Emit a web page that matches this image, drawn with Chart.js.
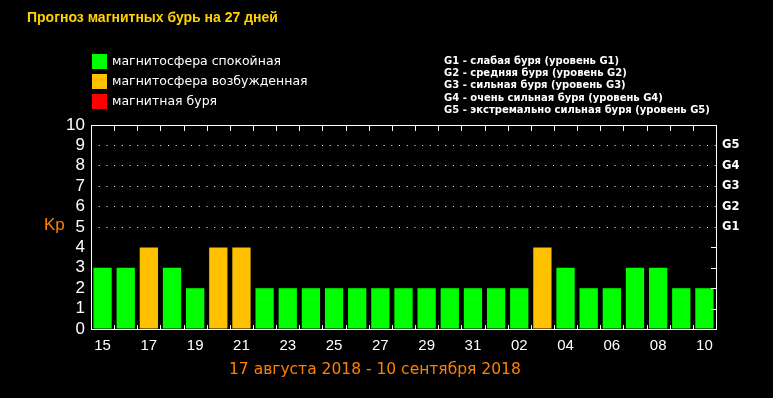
<!DOCTYPE html>
<html>
<head>
<meta charset="utf-8">
<script src="https://cdn.jsdelivr.net/npm/chart.js@4"></script>
<style>
  html, body { margin: 0; padding: 0; background: #000; }
  #wrap { position: relative; width: 773px; height: 398px; background: #000; overflow: hidden; }
  #wrap div { position: absolute; white-space: nowrap; }
  .title { left: 27px; top: 10px; font: bold 14px "Liberation Sans", Arial, sans-serif; line-height: 14px; color: #ffd200; }
  .lg { left: 112px; font: 12.5px "DejaVu Sans", sans-serif; line-height: 20px; color: #fff; }
  .sq { width: 15px; height: 15px; left: 92px; }
  .glist { left: 444px; top: 55px; font: bold 10px "DejaVu Sans", sans-serif; line-height: 12.2px; color: #fff; }
  .kp { left: 44px; top: 215px; font: 17px "Liberation Sans", Arial, sans-serif; line-height: 20px; color: #ff8000; }
  .period { left: 229px; top: 360px; font: 15.5px "DejaVu Sans", sans-serif; line-height: 18px; color: #ff8000; }
</style>
</head>
<body>
<div id="wrap">
  <canvas id="kpChart" width="773" height="398"></canvas>
  <div class="title">Прогноз магнитных бурь на 27 дней</div>
  <div class="sq" style="top:54px;background:#00ff00"></div>
  <div class="sq" style="top:74px;background:#ffc000"></div>
  <div class="sq" style="top:94px;background:#ff0000"></div>
  <div class="lg" style="top:51px">магнитосфера спокойная</div>
  <div class="lg" style="top:71px">магнитосфера возбужденная</div>
  <div class="lg" style="top:91px">магнитная буря</div>
  <div class="glist">G1 - слабая буря (уровень G1)<br>G2 - средняя буря (уровень G2)<br>G3 - сильная буря (уровень G3)<br>G4 - очень сильная буря (уровень G4)<br>G5 - экстремально сильная буря (уровень G5)</div>
  <div class="kp">Kp</div>
  <div class="period">17 августа 2018 - 10 сентября 2018</div>
</div>
<script>
// days: 15 Aug .. 10 Sep
const days = ['15', '16', '17', '18', '19', '20', '21', '22', '23', '24', '25', '26', '27', '28',
  '29', '30', '31', '01', '02', '03', '04', '05', '06', '07', '08', '09', '10']
const kpValues = [3, 3, 4, 3, 2, 4, 4, 2, 2, 2, 2, 2, 2, 2, 2, 2, 2, 2, 2, 4, 3, 2, 2, 3, 3, 2, 2]
const kpTicks = [0, 1, 2, 3, 4, 5, 6, 7, 8, 9, 10]
const gLabels = ['G1', 'G2', 'G3', 'G4', 'G5']

function barColor(v) {
    if (v >= 5) return '#ff0000'
    if (v >= 4) return '#ffc000'
    return '#00ff00'
}

// frame + short inner tick marks
const frameTicks = {
    id: 'frameTicks',
    afterDraw(chart) {
        const { ctx, chartArea: a, scales } = chart
        const x = scales.x, y = scales.y
        ctx.save()
        ctx.strokeStyle = '#fff'
        ctx.lineWidth = 1
        ctx.beginPath()
        for (let i = 1; i < days.length; i++) {
            const px = Math.round((x.getPixelForValue(i - 1) + x.getPixelForValue(i)) / 2) + 0.5
            ctx.moveTo(px, a.top)
            ctx.lineTo(px, a.top + 6)
            ctx.moveTo(px, a.bottom)
            ctx.lineTo(px, a.bottom - 4)
        }
        for (let v = 1; v <= 4; v++) {
            const py = Math.round(y.getPixelForValue(v)) + 0.5
            ctx.moveTo(a.right, py)
            ctx.lineTo(a.right - 5, py)
        }
        ctx.stroke()
        ctx.strokeRect(Math.round(a.left) + 0.5, Math.round(a.top) + 0.5,
            Math.round(a.right - a.left), Math.round(a.bottom - a.top))
        ctx.restore()
    }
}

Chart.defaults.color = '#fff'

const chart = new Chart(document.getElementById('kpChart'), {
    type: 'bar',
    data: {
        labels: days,
        datasets: [{
            data: kpValues,
            backgroundColor: kpValues.map(barColor),
            barPercentage: 0.79,
            categoryPercentage: 1
        }]
    },
    options: {
        responsive: false,
        animation: false,
        devicePixelRatio: 1,
        layout: { padding: { top: 125, left: 0, right: 0, bottom: 0 } },
        plugins: {
            legend: { display: false },
            title: { display: false },
            tooltip: { enabled: false }
        },
        scales: {
            x: {
                offset: true,
                grid: { display: false, drawTicks: false },
                border: { display: false },
                ticks: {
                    autoSkip: false,
                    maxRotation: 0,
                    padding: 8,
                    color: '#fff',
                    font: { family: '"Liberation Sans", Arial, sans-serif', size: 15 },
                    callback: (v, i) => i % 2 === 0 ? days[i] : ''
                },
                afterFit: s => { s.height = 69 }
            },
            y: {
                min: 0,
                max: 10,
                afterBuildTicks: s => { s.ticks = kpTicks.map(v => ({ value: v })) },
                grid: {
                    drawTicks: false,
                    color: c => (c.tick && c.tick.value >= 5 && c.tick.value <= 9) ? '#fff' : 'rgba(0,0,0,0)'
                },
                border: { display: false, dash: [1, 6.7] },
                ticks: {
                    autoSkip: false,
                    padding: 6,
                    color: '#fff',
                    font: { family: '"Liberation Sans", Arial, sans-serif', size: 17 }
                },
                afterFit: s => { s.width = 91 }
            },
            y2: {
                position: 'right',
                min: 0,
                max: 10,
                afterBuildTicks: s => { s.ticks = kpTicks.map(v => ({ value: v })) },
                grid: { display: false, drawTicks: false },
                border: { display: false },
                ticks: {
                    autoSkip: false,
                    padding: 6,
                    color: '#fff',
                    font: { family: '"DejaVu Sans", sans-serif', size: 11.5, weight: 'bold' },
                    callback: v => gLabels[v - 5] || ''
                },
                afterFit: s => { s.width = 57 }
            }
        }
    },
    plugins: [frameTicks]
});
</script>
</body>
</html>
